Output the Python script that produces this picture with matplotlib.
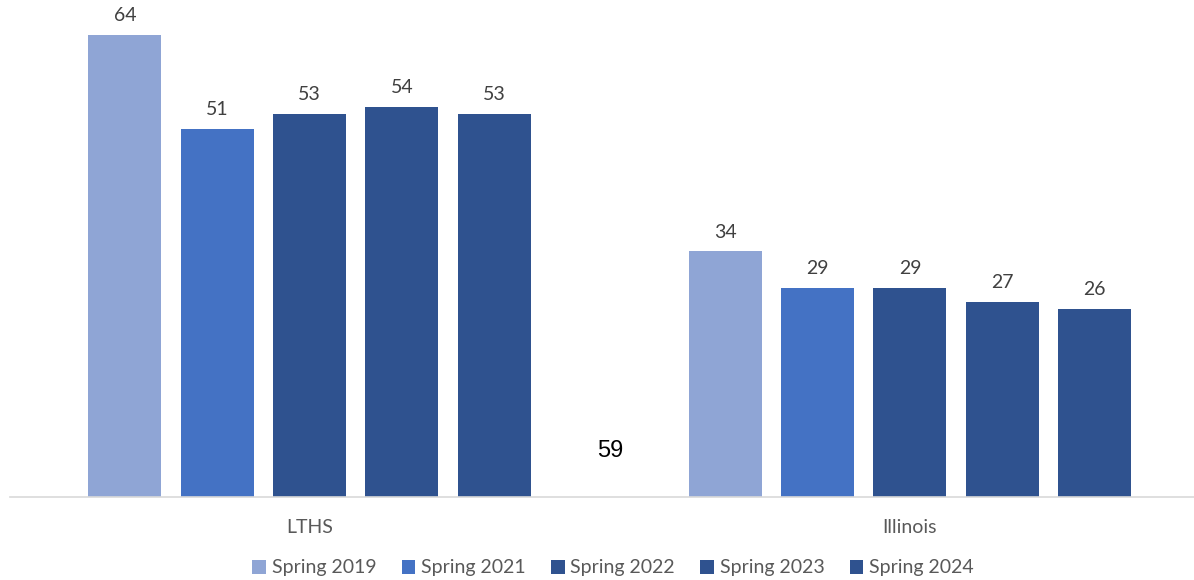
import matplotlib.pyplot as plt
import numpy as np

# Chart data
groups = ['LTHS', 'Illinois']
series = ['Spring 2019', 'Spring 2021', 'Spring 2022', 'Spring 2023', 'Spring 2024']
values = [
    [64, 34],
    [51, 29],
    [53, 29],
    [54, 27],
    [53, 26],
]
colors = ['#8FA5D5', '#4472C4', '#2F528F', '#2F528F', '#2F528F']

plt.rcParams['font.family'] = ['Lato', 'DejaVu Sans']

fig = plt.figure(figsize=(11.94, 5.8), dpi=100)
ax = fig.add_axes([9.5 / 1194, 83 / 580, 1 - 9.5 / 1194, 497 / 580])

x = np.arange(len(groups))
pitch = 0.1537
width = 0.1216
for i, (name, vals) in enumerate(zip(series, values)):
    pos = x + (i - 2) * pitch
    bars = ax.bar(pos, vals, width, color=colors[i], label=name)
    for b, v in zip(bars, vals):
        ax.text(b.get_x() + b.get_width() / 2, v + 1.5, str(v),
                ha='center', va='bottom', fontsize=14, color='#404040')

ax.set_xlim(-0.4996, 1.473)
ax.set_ylim(0, 68.8)

for s in ['top', 'right', 'left']:
    ax.spines[s].set_visible(False)
ax.spines['bottom'].set_color('#D9D9D9')
ax.spines['bottom'].set_linewidth(1.2)
ax.set_yticks([])
ax.set_xticks(x)
ax.set_xticklabels(groups, fontsize=14, color='#595959')
ax.tick_params(axis='x', length=0, pad=16)

# stray label in the middle of the chart
fig.text(610 / 1194, 1 - 451 / 580, '59', ha='center', va='center',
         fontsize=17, color='black', family='Liberation Sans')

ax.legend(loc='center', bbox_to_anchor=(613 / 1194, 1 - 568 / 580),
          bbox_transform=fig.transFigure, ncol=5, frameon=False,
          fontsize=14, labelcolor='#595959', handlelength=0.7,
          handleheight=0.7, handletextpad=0.3, columnspacing=1.3)

fig.savefig('out.png', dpi=100)
